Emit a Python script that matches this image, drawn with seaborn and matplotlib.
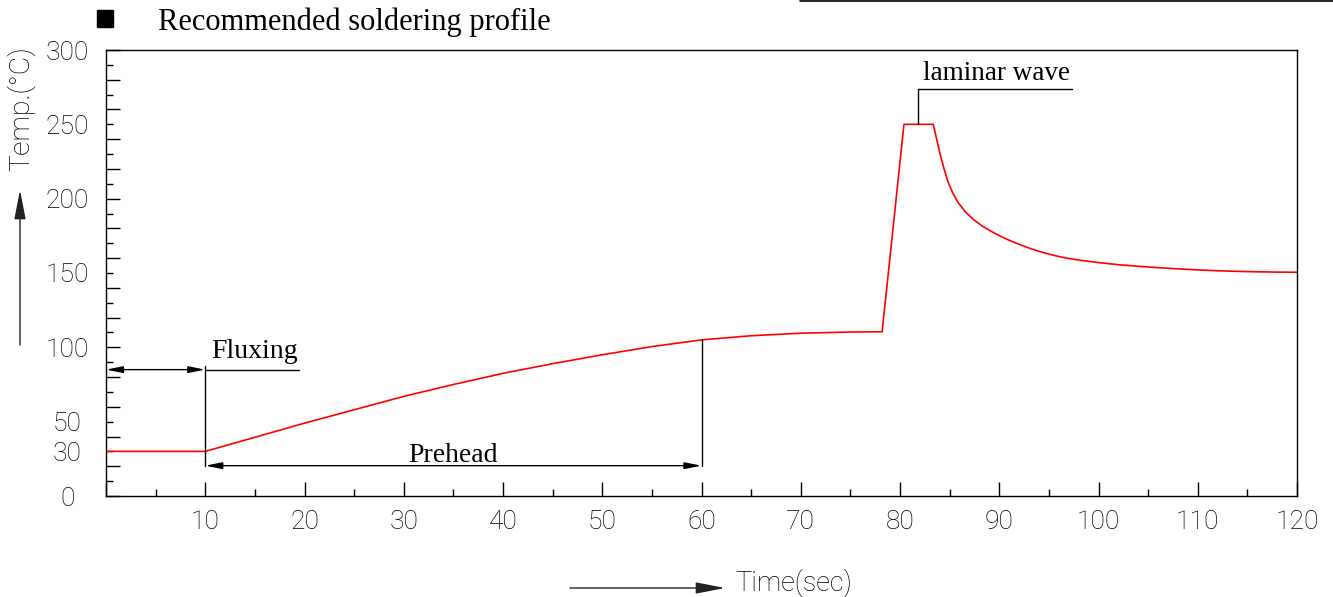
import numpy as np
import pandas as pd
import matplotlib
matplotlib.use('Agg')
import matplotlib.pyplot as plt
import seaborn as sns
from matplotlib.patches import FancyArrowPatch, Rectangle
from matplotlib.lines import Line2D

# soldering profile (time in sec, temp in C)
time_s = [0, 10, 15, 20, 25, 30, 35, 40, 45, 50, 55, 60, 65, 70, 75, 78.2,
          80.4, 83.35, 83.5, 83.7, 84.0, 84.4, 84.8, 85.3, 85.9, 86.6, 87.4,
          88.3, 89.3, 90.2, 91, 92, 93, 94, 95, 96, 97, 98, 100, 102, 104, 106,
          108, 110, 112, 114, 116, 118, 120]
temp_c = [30, 30, 39.5, 49, 58, 67, 75, 82.5, 89, 95, 100.5, 105, 107.8, 109.5,
          110.3, 110.5, 250, 250, 245.5, 240, 231, 221, 212, 204, 197, 191, 186,
          181.5, 177.6, 174.5, 172, 169.3, 166.8, 164.6, 162.7, 161.1, 159.8,
          158.7, 157, 155.6, 154.5, 153.6, 152.8, 152.1, 151.5, 151.1, 150.8,
          150.6, 150.5]

x_major = list(range(0, 121, 10))
x_labels = [''] + [str(v) for v in range(10, 121, 10)]
x_minor = list(range(5, 120, 10))
y_major = list(range(0, 301, 20))
y_minor = list(range(10, 300, 20))
y_label_vals = [0, 30, 50, 100, 150, 200, 250, 300]

W, H = 1333, 597

sns.set_style('white')
plt.rcParams['font.family'] = ['Roboto', 'DejaVu Sans']
plt.rcParams['font.weight'] = 'light'
plt.rcParams['text.color'] = 'black'
plt.rcParams['xtick.color'] = 'black'
plt.rcParams['ytick.color'] = 'black'
plt.rcParams['axes.edgecolor'] = 'black'
plt.rcParams['axes.linewidth'] = 1.0

fig = plt.figure(figsize=(W / 100, H / 100), dpi=100)
ax = fig.add_axes([106 / W, 101 / H, 1191 / W, 446 / H])

df = pd.DataFrame({'time': time_s, 'temp': temp_c})
sns.lineplot(data=df, x='time', y='temp', ax=ax, color='red', lw=1.2,
             estimator=None, sort=False)

ax.set_xlim(0, 120)
ax.set_ylim(0, 300)
ax.set_xlabel('')
ax.set_ylabel('')

ax.set_xticks(x_major, labels=x_labels)
ax.set_xticks(x_minor, minor=True)
ax.tick_params(axis='x', which='major', direction='in', length=10, width=1,
               pad=10, labelsize=19, bottom=True)
ax.tick_params(axis='x', which='minor', direction='in', length=5, width=1,
               bottom=True)

ax.set_yticks(y_major)
ax.set_yticks(y_minor, minor=True)
ax.tick_params(axis='y', which='major', direction='in', length=10, width=1,
               labelleft=False, left=True)
ax.tick_params(axis='y', which='minor', direction='in', length=5, width=1,
               left=True)

sec = ax.secondary_yaxis('left')
sec.set_yticks(y_label_vals, labels=[str(v) for v in y_label_vals])
sec.tick_params(length=0, pad=28, labelsize=19)
sec.spines['left'].set_visible(False)
for lbl in sec.get_yticklabels():
    lbl.set_ha('center')

# annotations
serif = 'Liberation Serif'
arr = dict(arrowstyle='<|-|>,head_length=1.0,head_width=0.2', color='black',
           lw=1, mutation_scale=10, shrinkA=0, shrinkB=0)
ax.annotate('', xy=(0, 85), xytext=(10, 85), arrowprops=arr)
ax.plot([10, 19.4], [85, 85], color='black', lw=1)
ax.plot([10, 10], [87.5, 20.4], color='black', lw=1)
ax.text(10.6, 92.6, 'Fluxing', family=serif, fontsize=20, va='baseline',
        weight='normal')

ax.annotate('', xy=(10, 20.4), xytext=(60, 20.4), arrowprops=arr)
ax.plot([60, 60], [105, 20.4], color='black', lw=1)
ax.text(35, 22.9, 'Prehead', family=serif, fontsize=20, va='baseline',
        ha='center', weight='normal')

ax.plot([81.85, 81.85, 97.3], [250, 273.8, 273.8], color='black', lw=1)
ax.text(82.35, 279.8, 'laminar wave', family=serif, fontsize=19.5,
        va='baseline', weight='normal')

# axis labels with arrows
fig.text(21 / W, 1 - 109 / H, 'Temp.(°C)', rotation=90, ha='center',
         va='center', fontsize=20.5)
big = '-|>,head_length=1.8,head_width=0.35'
fig.add_artist(FancyArrowPatch((20 / W, 1 - 345 / H), (20 / W, 1 - 190 / H),
                               transform=fig.transFigure, arrowstyle=big,
                               mutation_scale=10, color='#222222', lw=1,
                               shrinkA=0, shrinkB=0))
fig.text(735 / W, 1 - 583 / H, 'Time(sec)', ha='left', va='center',
         fontsize=19.5)
fig.add_artist(FancyArrowPatch((570 / W, 1 - 588 / H), (725 / W, 1 - 588 / H),
                               transform=fig.transFigure, arrowstyle=big,
                               mutation_scale=10, color='#222222', lw=1,
                               shrinkA=0, shrinkB=0))

# heading
fig.add_artist(Rectangle((97 / W, 1 - 27 / H), 16 / W, 17 / H,
                         transform=fig.transFigure, color='black'))
fig.text(158 / W, 1 - 30 / H, 'Recommended soldering profile', family=serif,
         fontsize=22, va='baseline', weight='normal')
fig.add_artist(Line2D([800 / W, 1], [1 - 0.7 / H, 1 - 0.7 / H],
                      transform=fig.transFigure, color='black', lw=1.2))

fig.savefig('out.png', dpi=100)
